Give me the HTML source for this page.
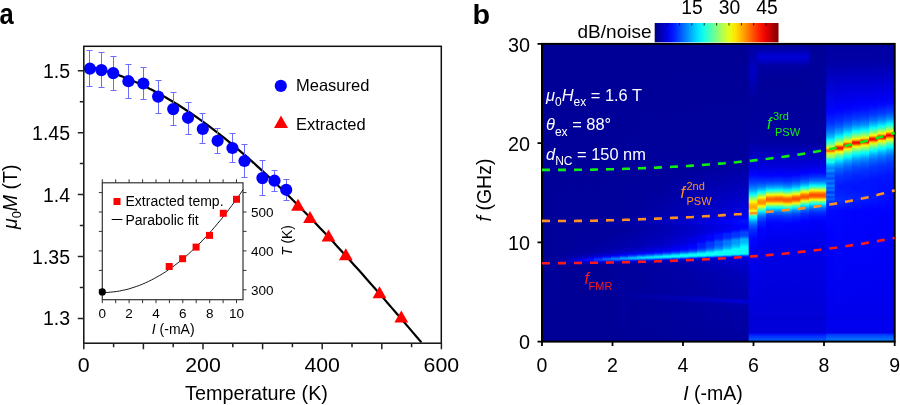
<!DOCTYPE html>
<html><head><meta charset="utf-8"><style>
html,body{margin:0;padding:0;background:#fff;}
svg{display:block;will-change:transform;font-family:"Liberation Sans", sans-serif;}
</style></head><body>
<svg width="900" height="405" viewBox="0 0 900 405">
<text x="-0.5" y="24" font-size="29" font-weight="bold" textLength="14.2" lengthAdjust="spacingAndGlyphs">a</text>
<text x="472.5" y="24" font-size="28.5" font-weight="bold" textLength="17.6" lengthAdjust="spacingAndGlyphs">b</text>
<polyline fill="none" stroke="#000" stroke-width="2.2" points="89.9,67.0 94.1,67.9 98.3,68.9 102.5,70.0 106.7,71.3 110.9,72.6 115.1,74.0 119.3,75.4 123.5,77.0 127.7,78.7 131.9,80.4 136.1,82.2 140.3,84.1 144.5,86.1 148.6,88.2 152.8,90.3 157.0,92.6 161.2,94.9 165.4,97.2 169.6,99.7 173.8,102.2 178.0,104.8 182.2,107.5 186.4,110.2 190.6,113.0 194.8,115.9 199.0,118.9 203.2,121.9 207.4,125.0 211.6,128.1 215.8,131.3 220.0,134.6 224.2,137.9 228.4,141.3 232.6,144.7 236.8,148.3 241.0,151.8 245.2,155.4 249.4,159.1 253.6,162.8 257.7,166.6 261.9,170.4 266.1,174.3 270.3,178.2 274.5,182.2 278.7,186.2 282.9,190.3 287.1,194.4 291.3,198.5 295.5,202.7 299.7,206.9 303.9,211.2 308.1,215.5 312.3,219.9 316.5,224.3 320.7,228.7 324.9,233.1 329.1,237.6 333.3,242.1 337.5,246.7 341.7,251.3 345.9,255.9 350.1,260.5 354.3,265.2 358.5,269.8 362.7,274.5 366.8,279.3 371.0,284.0 375.2,288.8 379.4,293.6 383.6,298.4 387.8,303.3 392.0,308.1 396.2,313.0 400.4,317.8 404.6,322.7 408.8,327.6 413.0,332.6 417.2,337.5 421.4,342.4"/>
<path d="M89.5 50.5V86.5M86.5 50.5h6M86.5 86.5h6" stroke="#6b6bff" stroke-width="1" fill="none"/>
<path d="M101.5 52.5V87.5M98.5 52.5h6M98.5 87.5h6" stroke="#6b6bff" stroke-width="1" fill="none"/>
<path d="M113.5 56.5V90.5M110.5 56.5h6M110.5 90.5h6" stroke="#6b6bff" stroke-width="1" fill="none"/>
<path d="M128.5 64.5V98.5M125.5 64.5h6M125.5 98.5h6" stroke="#6b6bff" stroke-width="1" fill="none"/>
<path d="M143.5 67.5V99.5M140.5 67.5h6M140.5 99.5h6" stroke="#6b6bff" stroke-width="1" fill="none"/>
<path d="M158.5 80.5V113.5M155.5 80.5h6M155.5 113.5h6" stroke="#6b6bff" stroke-width="1" fill="none"/>
<path d="M173.5 92.5V125.5M170.5 92.5h6M170.5 125.5h6" stroke="#6b6bff" stroke-width="1" fill="none"/>
<path d="M188.5 102.5V134.5M185.5 102.5h6M185.5 134.5h6" stroke="#6b6bff" stroke-width="1" fill="none"/>
<path d="M202.5 113.5V143.5M199.5 113.5h6M199.5 143.5h6" stroke="#6b6bff" stroke-width="1" fill="none"/>
<path d="M217.5 128.5V153.5M214.5 128.5h6M214.5 153.5h6" stroke="#6b6bff" stroke-width="1" fill="none"/>
<path d="M232.5 133.5V162.5M229.5 133.5h6M229.5 162.5h6" stroke="#6b6bff" stroke-width="1" fill="none"/>
<path d="M244.5 144.5V177.5M241.5 144.5h6M241.5 177.5h6" stroke="#6b6bff" stroke-width="1" fill="none"/>
<path d="M262.5 160.5V195.5M259.5 160.5h6M259.5 195.5h6" stroke="#6b6bff" stroke-width="1" fill="none"/>
<path d="M274.5 170.5V191.5M271.5 170.5h6M271.5 191.5h6" stroke="#6b6bff" stroke-width="1" fill="none"/>
<path d="M286.5 179.5V200.5M283.5 179.5h6M283.5 200.5h6" stroke="#6b6bff" stroke-width="1" fill="none"/>
<circle cx="89.9" cy="68.7" r="6.1" fill="#0000ff"/>
<circle cx="101.4" cy="70.1" r="6.1" fill="#0000ff"/>
<circle cx="113.2" cy="73.1" r="6.1" fill="#0000ff"/>
<circle cx="128.4" cy="81.2" r="6.1" fill="#0000ff"/>
<circle cx="143.3" cy="83.5" r="6.1" fill="#0000ff"/>
<circle cx="158.1" cy="96.6" r="6.1" fill="#0000ff"/>
<circle cx="173.2" cy="109.1" r="6.1" fill="#0000ff"/>
<circle cx="188.0" cy="117.8" r="6.1" fill="#0000ff"/>
<circle cx="202.8" cy="129.0" r="6.1" fill="#0000ff"/>
<circle cx="217.6" cy="140.8" r="6.1" fill="#0000ff"/>
<circle cx="232.4" cy="148.0" r="6.1" fill="#0000ff"/>
<circle cx="244.5" cy="161.0" r="6.1" fill="#0000ff"/>
<circle cx="262.4" cy="178.1" r="6.1" fill="#0000ff"/>
<circle cx="274.5" cy="180.7" r="6.1" fill="#0000ff"/>
<circle cx="286.2" cy="189.8" r="6.1" fill="#0000ff"/>
<path d="M298.0 198.8L304.9 210.8H291.1Z" fill="#ff0000"/>
<path d="M310.0 211.1L316.9 223.1H303.1Z" fill="#ff0000"/>
<path d="M328.5 229.5L335.4 241.5H321.6Z" fill="#ff0000"/>
<path d="M345.8 248.2L352.7 260.2H338.9Z" fill="#ff0000"/>
<path d="M379.5 286.2L386.4 298.2H372.6Z" fill="#ff0000"/>
<path d="M401.3 310.6L408.2 322.6H394.4Z" fill="#ff0000"/>
<rect x="83.8" y="46.3" width="357.5" height="296.9" fill="none" stroke="#111" stroke-width="1.5"/>
<path d="M77.8 318.4H83.8M79.8 287.5H83.8M77.8 256.5H83.8M79.8 225.6H83.8M77.8 194.6H83.8M79.8 163.6H83.8M77.8 132.7H83.8M79.8 101.7H83.8M77.8 70.8H83.8M83.8 343.2V349.2M113.6 343.2V347.2M143.4 343.2V349.2M173.2 343.2V347.2M203.0 343.2V349.2M232.8 343.2V347.2M262.6 343.2V349.2M292.4 343.2V347.2M322.2 343.2V349.2M352.0 343.2V347.2M381.8 343.2V349.2M411.6 343.2V347.2M441.4 343.2V349.2" stroke="#222" stroke-width="1.5" fill="none"/>
<text x="70.0" y="77.8" font-size="19.5" text-anchor="end" fill="#000" >1.5</text>
<text x="70.0" y="139.7" font-size="19.5" text-anchor="end" fill="#000" >1.45</text>
<text x="70.0" y="201.6" font-size="19.5" text-anchor="end" fill="#000" >1.4</text>
<text x="70.0" y="263.5" font-size="19.5" text-anchor="end" fill="#000" >1.35</text>
<text x="70.0" y="325.4" font-size="19.5" text-anchor="end" fill="#000" >1.3</text>
<text x="83.8" y="372.2" font-size="20.5" text-anchor="middle" fill="#000" textLength="11.9" lengthAdjust="spacingAndGlyphs" >0</text>
<text x="203.0" y="372.2" font-size="20.5" text-anchor="middle" fill="#000" textLength="35.6" lengthAdjust="spacingAndGlyphs" >200</text>
<text x="322.2" y="372.2" font-size="20.5" text-anchor="middle" fill="#000" textLength="35.6" lengthAdjust="spacingAndGlyphs" >400</text>
<text x="441.4" y="372.2" font-size="20.5" text-anchor="middle" fill="#000" textLength="35.6" lengthAdjust="spacingAndGlyphs" >600</text>
<text x="256.5" y="400.0" font-size="19.8" text-anchor="middle" fill="#000" >Temperature (K)</text>
<text transform="translate(17,196.8) rotate(-90)" font-size="19.5" text-anchor="middle"><tspan font-style="italic">μ</tspan><tspan font-size="13" dy="4">0</tspan><tspan font-style="italic" dy="-4">M</tspan> (T)</text>
<circle cx="280.8" cy="85.9" r="6.1" fill="#0000ff"/>
<text x="296.0" y="91.0" font-size="16.5" text-anchor="start" fill="#000" >Measured</text>
<path d="M281 115.4L288 128H274Z" fill="#ff0000"/>
<text x="296.0" y="130.0" font-size="16.5" text-anchor="start" fill="#000" >Extracted</text>
<rect x="102.3" y="182.8" width="140.7" height="116.9" fill="#fff" stroke="#333" stroke-width="1.2"/>
<path d="M102.3 299.7v3.5M102.3 182.8v-3.5M115.7 299.7v3.5M115.7 182.8v-3.5M129.1 299.7v3.5M129.1 182.8v-3.5M142.6 299.7v3.5M142.6 182.8v-3.5M156.0 299.7v3.5M156.0 182.8v-3.5M169.4 299.7v3.5M169.4 182.8v-3.5M182.8 299.7v3.5M182.8 182.8v-3.5M196.2 299.7v3.5M196.2 182.8v-3.5M209.7 299.7v3.5M209.7 182.8v-3.5M223.1 299.7v3.5M223.1 182.8v-3.5M236.5 299.7v3.5M236.5 182.8v-3.5M102.3 289.8h-3.5M243.0 289.8h3.5M102.3 270.4h-3.5M243.0 270.4h3.5M102.3 250.9h-3.5M243.0 250.9h3.5M102.3 231.4h-3.5M243.0 231.4h3.5M102.3 212.0h-3.5M243.0 212.0h3.5M102.3 192.6h-3.5M243.0 192.6h3.5" stroke="#333" stroke-width="1" fill="none"/>
<polyline fill="none" stroke="#000" stroke-width="0.9" points="102.3,292.5 105.2,292.5 108.1,292.4 110.9,292.1 113.8,291.8 116.7,291.5 119.6,291.0 122.4,290.4 125.3,289.8 128.2,289.1 131.1,288.2 133.9,287.3 136.8,286.3 139.7,285.3 142.6,284.1 145.4,282.9 148.3,281.5 151.2,280.1 154.1,278.6 156.9,277.0 159.8,275.4 162.7,273.6 165.6,271.8 168.4,269.8 171.3,267.8 174.2,265.7 177.1,263.5 179.9,261.3 182.8,258.9 185.7,256.5 188.6,253.9 191.4,251.3 194.3,248.6 197.2,245.8 200.1,243.0 202.9,240.0 205.8,237.0 208.7,233.8 211.6,230.6 214.5,227.3 217.3,223.9 220.2,220.5 223.1,216.9 226.0,213.3 228.8,209.5 231.7,205.7 234.6,201.8 237.5,197.8 240.3,193.8 243.2,189.6"/>
<rect x="165.7" y="263.0" width="7" height="7" fill="#ff0000"/>
<rect x="179.1" y="255.2" width="7" height="7" fill="#ff0000"/>
<rect x="192.6" y="243.6" width="7" height="7" fill="#ff0000"/>
<rect x="206.0" y="231.9" width="7" height="7" fill="#ff0000"/>
<rect x="219.8" y="209.8" width="7" height="7" fill="#ff0000"/>
<rect x="233.0" y="195.8" width="7" height="7" fill="#ff0000"/>
<circle cx="102.3" cy="291.9" r="3.6" fill="#000"/>
<rect x="113.5" y="198" width="7" height="7" fill="#ff0000"/>
<text x="125.5" y="206.0" font-size="14" text-anchor="start" fill="#000" >Extracted temp.</text>
<path d="M111.7 219.5H122.4" stroke="#000" stroke-width="1"/>
<text x="125.5" y="224.8" font-size="14" text-anchor="start" fill="#000" >Parabolic fit</text>
<text x="102.3" y="317.5" font-size="13.5" text-anchor="middle" fill="#000" >0</text>
<text x="129.1" y="317.5" font-size="13.5" text-anchor="middle" fill="#000" >2</text>
<text x="156.0" y="317.5" font-size="13.5" text-anchor="middle" fill="#000" >4</text>
<text x="182.8" y="317.5" font-size="13.5" text-anchor="middle" fill="#000" >6</text>
<text x="209.7" y="317.5" font-size="13.5" text-anchor="middle" fill="#000" >8</text>
<text x="236.5" y="317.5" font-size="13.5" text-anchor="middle" fill="#000" >10</text>
<text x="251.0" y="294.6" font-size="13.5" text-anchor="start" fill="#000" >300</text>
<text x="251.0" y="255.7" font-size="13.5" text-anchor="start" fill="#000" >400</text>
<text x="251.0" y="216.8" font-size="13.5" text-anchor="start" fill="#000" >500</text>
<text x="173.2" y="334.3" font-size="14" text-anchor="middle"><tspan font-style="italic">I</tspan> (-mA)</text>
<text transform="translate(292,240.5) rotate(-90)" font-size="13.8" text-anchor="middle"><tspan font-style="italic">T</tspan> (K)</text>
<g id="heat"><defs><linearGradient id="c0" x1="0" x2="0" y1="0" y2="1"><stop offset="0.0000" stop-color="#000096"/><stop offset="0.9976" stop-color="#000096"/></linearGradient><linearGradient id="c1" x1="0" x2="0" y1="0" y2="1"><stop offset="0.0000" stop-color="#000096"/><stop offset="0.7222" stop-color="#00009b"/><stop offset="0.9976" stop-color="#000096"/></linearGradient><linearGradient id="c2" x1="0" x2="0" y1="0" y2="1"><stop offset="0.0000" stop-color="#000096"/><stop offset="0.7121" stop-color="#00009b"/><stop offset="0.7289" stop-color="#0000af"/><stop offset="0.7457" stop-color="#000097"/><stop offset="0.9976" stop-color="#000096"/></linearGradient><linearGradient id="c3" x1="0" x2="0" y1="0" y2="1"><stop offset="0.0000" stop-color="#000096"/><stop offset="0.7020" stop-color="#00009c"/><stop offset="0.7155" stop-color="#0000a9"/><stop offset="0.7256" stop-color="#0000cb"/><stop offset="0.7289" stop-color="#0000ce"/><stop offset="0.7390" stop-color="#0000a1"/><stop offset="0.7524" stop-color="#000096"/><stop offset="0.9976" stop-color="#000096"/></linearGradient><linearGradient id="c4" x1="0" x2="0" y1="0" y2="1"><stop offset="0.0000" stop-color="#000096"/><stop offset="0.5878" stop-color="#00009a"/><stop offset="0.6987" stop-color="#00009f"/><stop offset="0.7121" stop-color="#0000ad"/><stop offset="0.7188" stop-color="#0000c6"/><stop offset="0.7256" stop-color="#0000ee"/><stop offset="0.7289" stop-color="#0000eb"/><stop offset="0.7390" stop-color="#0000a3"/><stop offset="0.7491" stop-color="#000097"/><stop offset="0.9976" stop-color="#000096"/></linearGradient><linearGradient id="c5" x1="0" x2="0" y1="0" y2="1"><stop offset="0.0000" stop-color="#000096"/><stop offset="0.5878" stop-color="#00009b"/><stop offset="0.6920" stop-color="#00009f"/><stop offset="0.7088" stop-color="#0000b0"/><stop offset="0.7155" stop-color="#0000c9"/><stop offset="0.7222" stop-color="#0000fe"/><stop offset="0.7256" stop-color="#0011ff"/><stop offset="0.7289" stop-color="#0002ff"/><stop offset="0.7356" stop-color="#0000b8"/><stop offset="0.7390" stop-color="#0000a2"/><stop offset="0.7491" stop-color="#000097"/><stop offset="0.9976" stop-color="#000097"/></linearGradient><linearGradient id="c6" x1="0" x2="0" y1="0" y2="1"><stop offset="0.0000" stop-color="#000096"/><stop offset="0.5845" stop-color="#00009a"/><stop offset="0.6013" stop-color="#00009d"/><stop offset="0.6785" stop-color="#00009e"/><stop offset="0.7020" stop-color="#0000ae"/><stop offset="0.7121" stop-color="#0000ce"/><stop offset="0.7155" stop-color="#0000e7"/><stop offset="0.7188" stop-color="#000bff"/><stop offset="0.7222" stop-color="#0033ff"/><stop offset="0.7256" stop-color="#003fff"/><stop offset="0.7289" stop-color="#001dff"/><stop offset="0.7323" stop-color="#0000e5"/><stop offset="0.7356" stop-color="#0000b9"/><stop offset="0.7390" stop-color="#0000a2"/><stop offset="0.7491" stop-color="#000097"/><stop offset="0.9976" stop-color="#000097"/></linearGradient><linearGradient id="c7" x1="0" x2="0" y1="0" y2="1"><stop offset="0.0000" stop-color="#000096"/><stop offset="0.5845" stop-color="#00009b"/><stop offset="0.6013" stop-color="#00009f"/><stop offset="0.6584" stop-color="#00009d"/><stop offset="0.6953" stop-color="#0000ad"/><stop offset="0.7054" stop-color="#0000c2"/><stop offset="0.7121" stop-color="#0000e7"/><stop offset="0.7155" stop-color="#000cff"/><stop offset="0.7222" stop-color="#0067ff"/><stop offset="0.7256" stop-color="#0061ff"/><stop offset="0.7289" stop-color="#0028ff"/><stop offset="0.7323" stop-color="#0000e3"/><stop offset="0.7356" stop-color="#0000b5"/><stop offset="0.7390" stop-color="#0000a0"/><stop offset="0.7558" stop-color="#000097"/><stop offset="0.9976" stop-color="#000097"/></linearGradient><linearGradient id="c8" x1="0" x2="0" y1="0" y2="1"><stop offset="0.0000" stop-color="#000096"/><stop offset="0.5845" stop-color="#00009c"/><stop offset="0.5979" stop-color="#0000a4"/><stop offset="0.6281" stop-color="#00009c"/><stop offset="0.6886" stop-color="#0000ab"/><stop offset="0.7020" stop-color="#0000c2"/><stop offset="0.7088" stop-color="#0000e2"/><stop offset="0.7121" stop-color="#0001ff"/><stop offset="0.7155" stop-color="#002fff"/><stop offset="0.7188" stop-color="#0067ff"/><stop offset="0.7222" stop-color="#0086ff"/><stop offset="0.7256" stop-color="#0068ff"/><stop offset="0.7289" stop-color="#001eff"/><stop offset="0.7323" stop-color="#0000d7"/><stop offset="0.7356" stop-color="#0000af"/><stop offset="0.7390" stop-color="#00009f"/><stop offset="0.7995" stop-color="#000098"/><stop offset="0.8498" stop-color="#000099"/><stop offset="0.9976" stop-color="#000097"/></linearGradient><linearGradient id="c9" x1="0" x2="0" y1="0" y2="1"><stop offset="0.0000" stop-color="#000096"/><stop offset="0.5811" stop-color="#00009c"/><stop offset="0.5979" stop-color="#0000a7"/><stop offset="0.6214" stop-color="#00009e"/><stop offset="0.6853" stop-color="#0000ae"/><stop offset="0.6987" stop-color="#0000c3"/><stop offset="0.7054" stop-color="#0000df"/><stop offset="0.7088" stop-color="#0000f8"/><stop offset="0.7121" stop-color="#0021ff"/><stop offset="0.7188" stop-color="#0092ff"/><stop offset="0.7222" stop-color="#009dff"/><stop offset="0.7256" stop-color="#0065ff"/><stop offset="0.7289" stop-color="#000fff"/><stop offset="0.7323" stop-color="#0000cc"/><stop offset="0.7356" stop-color="#0000aa"/><stop offset="0.7424" stop-color="#00009b"/><stop offset="0.8364" stop-color="#00009e"/><stop offset="0.9976" stop-color="#000098"/></linearGradient><linearGradient id="c10" x1="0" x2="0" y1="0" y2="1"><stop offset="0.0000" stop-color="#000096"/><stop offset="0.5778" stop-color="#00009d"/><stop offset="0.5979" stop-color="#0000ab"/><stop offset="0.6214" stop-color="#0000a1"/><stop offset="0.6819" stop-color="#0000b2"/><stop offset="0.6953" stop-color="#0000c4"/><stop offset="0.7020" stop-color="#0000dd"/><stop offset="0.7054" stop-color="#0000f2"/><stop offset="0.7088" stop-color="#0015ff"/><stop offset="0.7121" stop-color="#0046ff"/><stop offset="0.7155" stop-color="#0087ff"/><stop offset="0.7188" stop-color="#00b9ff"/><stop offset="0.7222" stop-color="#00a9ff"/><stop offset="0.7289" stop-color="#0000fd"/><stop offset="0.7323" stop-color="#0000c1"/><stop offset="0.7356" stop-color="#0000a7"/><stop offset="0.7457" stop-color="#00009c"/><stop offset="0.8364" stop-color="#00009e"/><stop offset="0.8465" stop-color="#0000a3"/><stop offset="0.8700" stop-color="#000099"/><stop offset="0.9976" stop-color="#000098"/></linearGradient><linearGradient id="c11" x1="0" x2="0" y1="0" y2="1"><stop offset="0.0000" stop-color="#000096"/><stop offset="0.5643" stop-color="#00009e"/><stop offset="0.5878" stop-color="#0000aa"/><stop offset="0.5979" stop-color="#0000b0"/><stop offset="0.6181" stop-color="#0000a5"/><stop offset="0.6785" stop-color="#0000b5"/><stop offset="0.6953" stop-color="#0000d0"/><stop offset="0.7020" stop-color="#0000ee"/><stop offset="0.7054" stop-color="#000bff"/><stop offset="0.7088" stop-color="#0035ff"/><stop offset="0.7155" stop-color="#00b6ff"/><stop offset="0.7188" stop-color="#00d6ff"/><stop offset="0.7222" stop-color="#00a7ff"/><stop offset="0.7256" stop-color="#0045ff"/><stop offset="0.7289" stop-color="#0000eb"/><stop offset="0.7323" stop-color="#0000b9"/><stop offset="0.7356" stop-color="#0000a5"/><stop offset="0.7659" stop-color="#00009c"/><stop offset="0.8364" stop-color="#00009e"/><stop offset="0.8465" stop-color="#0000a8"/><stop offset="0.8633" stop-color="#00009a"/><stop offset="0.9976" stop-color="#000099"/></linearGradient><linearGradient id="c12" x1="0" x2="0" y1="0" y2="1"><stop offset="0.0000" stop-color="#000096"/><stop offset="0.5139" stop-color="#00009e"/><stop offset="0.5845" stop-color="#0000a9"/><stop offset="0.5979" stop-color="#0000b5"/><stop offset="0.6181" stop-color="#0000a9"/><stop offset="0.6752" stop-color="#0000bb"/><stop offset="0.6953" stop-color="#0000dd"/><stop offset="0.7020" stop-color="#0001ff"/><stop offset="0.7054" stop-color="#0023ff"/><stop offset="0.7088" stop-color="#0055ff"/><stop offset="0.7155" stop-color="#00d8ff"/><stop offset="0.7188" stop-color="#00dcff"/><stop offset="0.7222" stop-color="#0092ff"/><stop offset="0.7256" stop-color="#0029ff"/><stop offset="0.7289" stop-color="#0000d9"/><stop offset="0.7323" stop-color="#0000b2"/><stop offset="0.7390" stop-color="#0000a1"/><stop offset="0.8364" stop-color="#00009e"/><stop offset="0.8465" stop-color="#0000ac"/><stop offset="0.8633" stop-color="#00009b"/><stop offset="0.9976" stop-color="#000099"/></linearGradient><linearGradient id="c13" x1="0" x2="0" y1="0" y2="1"><stop offset="0.0000" stop-color="#000096"/><stop offset="0.4803" stop-color="#00009d"/><stop offset="0.5811" stop-color="#0000aa"/><stop offset="0.5979" stop-color="#0000bb"/><stop offset="0.6147" stop-color="#0000ad"/><stop offset="0.6584" stop-color="#0000b9"/><stop offset="0.6785" stop-color="#0000c6"/><stop offset="0.6953" stop-color="#0000ea"/><stop offset="0.6987" stop-color="#0000fb"/><stop offset="0.7020" stop-color="#0017ff"/><stop offset="0.7054" stop-color="#0040ff"/><stop offset="0.7088" stop-color="#007cff"/><stop offset="0.7121" stop-color="#00c4ff"/><stop offset="0.7155" stop-color="#00f3ff"/><stop offset="0.7188" stop-color="#00d5ff"/><stop offset="0.7256" stop-color="#000cff"/><stop offset="0.7289" stop-color="#0000ca"/><stop offset="0.7323" stop-color="#0000ae"/><stop offset="0.7424" stop-color="#0000a3"/><stop offset="0.8398" stop-color="#0000a2"/><stop offset="0.8498" stop-color="#0000b0"/><stop offset="0.8633" stop-color="#00009c"/><stop offset="0.9976" stop-color="#000099"/></linearGradient><linearGradient id="c14" x1="0" x2="0" y1="0" y2="1"><stop offset="0.0000" stop-color="#000096"/><stop offset="0.4602" stop-color="#00009d"/><stop offset="0.5811" stop-color="#0000af"/><stop offset="0.5946" stop-color="#0000c2"/><stop offset="0.6147" stop-color="#0000b3"/><stop offset="0.6550" stop-color="#0000bf"/><stop offset="0.6651" stop-color="#0000c9"/><stop offset="0.6752" stop-color="#0000cc"/><stop offset="0.6920" stop-color="#0000ec"/><stop offset="0.6953" stop-color="#0000f9"/><stop offset="0.6987" stop-color="#0011ff"/><stop offset="0.7020" stop-color="#0033ff"/><stop offset="0.7054" stop-color="#0065ff"/><stop offset="0.7121" stop-color="#00eeff"/><stop offset="0.7155" stop-color="#00ffff"/><stop offset="0.7188" stop-color="#00bdff"/><stop offset="0.7222" stop-color="#004dff"/><stop offset="0.7256" stop-color="#0000f0"/><stop offset="0.7289" stop-color="#0000bf"/><stop offset="0.7323" stop-color="#0000ad"/><stop offset="0.7759" stop-color="#0000a1"/><stop offset="0.8398" stop-color="#0000a1"/><stop offset="0.8498" stop-color="#0000b4"/><stop offset="0.8666" stop-color="#00009d"/><stop offset="0.9976" stop-color="#00009a"/></linearGradient><linearGradient id="c15" x1="0" x2="0" y1="0" y2="1"><stop offset="0.0000" stop-color="#000096"/><stop offset="0.4468" stop-color="#00009d"/><stop offset="0.5811" stop-color="#0000b5"/><stop offset="0.5946" stop-color="#0000c9"/><stop offset="0.6147" stop-color="#0000b9"/><stop offset="0.6517" stop-color="#0000c6"/><stop offset="0.6617" stop-color="#0000d1"/><stop offset="0.6718" stop-color="#0000d2"/><stop offset="0.6819" stop-color="#0000eb"/><stop offset="0.6886" stop-color="#0000f0"/><stop offset="0.6920" stop-color="#0000fa"/><stop offset="0.6953" stop-color="#000dff"/><stop offset="0.6987" stop-color="#002aff"/><stop offset="0.7020" stop-color="#0054ff"/><stop offset="0.7054" stop-color="#0090ff"/><stop offset="0.7088" stop-color="#00d9ff"/><stop offset="0.7121" stop-color="#0afff5"/><stop offset="0.7155" stop-color="#00fcff"/><stop offset="0.7188" stop-color="#009bff"/><stop offset="0.7222" stop-color="#0029ff"/><stop offset="0.7256" stop-color="#0000dc"/><stop offset="0.7289" stop-color="#0000b9"/><stop offset="0.7356" stop-color="#0000aa"/><stop offset="0.8398" stop-color="#0000a1"/><stop offset="0.8532" stop-color="#0000b8"/><stop offset="0.8666" stop-color="#00009f"/><stop offset="0.9976" stop-color="#00009b"/></linearGradient><linearGradient id="c16" x1="0" x2="0" y1="0" y2="1"><stop offset="0.0000" stop-color="#000096"/><stop offset="0.4367" stop-color="#00009d"/><stop offset="0.5811" stop-color="#0000ba"/><stop offset="0.5946" stop-color="#0000d0"/><stop offset="0.6147" stop-color="#0000bf"/><stop offset="0.6483" stop-color="#0000cd"/><stop offset="0.6584" stop-color="#0000da"/><stop offset="0.6685" stop-color="#0000d8"/><stop offset="0.6785" stop-color="#0000f4"/><stop offset="0.6886" stop-color="#0000fc"/><stop offset="0.6920" stop-color="#000cff"/><stop offset="0.6953" stop-color="#0023ff"/><stop offset="0.6987" stop-color="#0046ff"/><stop offset="0.7020" stop-color="#0079ff"/><stop offset="0.7088" stop-color="#06fff9"/><stop offset="0.7121" stop-color="#0afff5"/><stop offset="0.7155" stop-color="#00e6ff"/><stop offset="0.7188" stop-color="#0072ff"/><stop offset="0.7222" stop-color="#000aff"/><stop offset="0.7256" stop-color="#0000ce"/><stop offset="0.7289" stop-color="#0000b7"/><stop offset="0.7524" stop-color="#0000a8"/><stop offset="0.8431" stop-color="#0000a4"/><stop offset="0.8532" stop-color="#0000bd"/><stop offset="0.8666" stop-color="#0000a1"/><stop offset="0.9976" stop-color="#00009b"/></linearGradient><linearGradient id="c17" x1="0" x2="0" y1="0" y2="1"><stop offset="0.0000" stop-color="#000096"/><stop offset="0.4266" stop-color="#00009d"/><stop offset="0.5811" stop-color="#0000c1"/><stop offset="0.5946" stop-color="#0000d8"/><stop offset="0.6147" stop-color="#0000c6"/><stop offset="0.6416" stop-color="#0000cf"/><stop offset="0.6517" stop-color="#0000e5"/><stop offset="0.6651" stop-color="#0000e1"/><stop offset="0.6752" stop-color="#0002ff"/><stop offset="0.6853" stop-color="#0004ff"/><stop offset="0.6920" stop-color="#0023ff"/><stop offset="0.6953" stop-color="#0040ff"/><stop offset="0.6987" stop-color="#006aff"/><stop offset="0.7020" stop-color="#00a5ff"/><stop offset="0.7054" stop-color="#00edff"/><stop offset="0.7088" stop-color="#0afff5"/><stop offset="0.7121" stop-color="#0afff5"/><stop offset="0.7155" stop-color="#00c1ff"/><stop offset="0.7188" stop-color="#0048ff"/><stop offset="0.7222" stop-color="#0000f0"/><stop offset="0.7256" stop-color="#0000c6"/><stop offset="0.7289" stop-color="#0000b7"/><stop offset="0.7759" stop-color="#0000a8"/><stop offset="0.8431" stop-color="#0000a4"/><stop offset="0.8566" stop-color="#0000c1"/><stop offset="0.8700" stop-color="#0000a1"/><stop offset="0.9976" stop-color="#00009c"/></linearGradient><linearGradient id="c18" x1="0" x2="0" y1="0" y2="1"><stop offset="0.0000" stop-color="#000096"/><stop offset="0.4199" stop-color="#00009d"/><stop offset="0.5778" stop-color="#0000c5"/><stop offset="0.5946" stop-color="#0000e1"/><stop offset="0.6147" stop-color="#0000ce"/><stop offset="0.6382" stop-color="#0000d9"/><stop offset="0.6483" stop-color="#0000f4"/><stop offset="0.6584" stop-color="#0000ee"/><stop offset="0.6651" stop-color="#0000ff"/><stop offset="0.6718" stop-color="#001bff"/><stop offset="0.6819" stop-color="#001aff"/><stop offset="0.6886" stop-color="#0034ff"/><stop offset="0.6920" stop-color="#004cff"/><stop offset="0.6953" stop-color="#006dff"/><stop offset="0.6987" stop-color="#009eff"/><stop offset="0.7020" stop-color="#00dfff"/><stop offset="0.7054" stop-color="#0afff5"/><stop offset="0.7121" stop-color="#0afff5"/><stop offset="0.7155" stop-color="#0096ff"/><stop offset="0.7188" stop-color="#0024ff"/><stop offset="0.7222" stop-color="#0000df"/><stop offset="0.7256" stop-color="#0000c3"/><stop offset="0.7356" stop-color="#0000b5"/><stop offset="0.8398" stop-color="#0000a4"/><stop offset="0.8498" stop-color="#0000b0"/><stop offset="0.8566" stop-color="#0000c5"/><stop offset="0.8633" stop-color="#0000b5"/><stop offset="0.8734" stop-color="#0000a2"/><stop offset="0.9976" stop-color="#00009d"/></linearGradient><linearGradient id="c19" x1="0" x2="0" y1="0" y2="1"><stop offset="0.0000" stop-color="#000096"/><stop offset="0.4132" stop-color="#00009d"/><stop offset="0.5778" stop-color="#0000cc"/><stop offset="0.5946" stop-color="#0000ea"/><stop offset="0.6147" stop-color="#0000d7"/><stop offset="0.6349" stop-color="#0000e2"/><stop offset="0.6449" stop-color="#0005ff"/><stop offset="0.6550" stop-color="#0001ff"/><stop offset="0.6617" stop-color="#0015ff"/><stop offset="0.6685" stop-color="#0037ff"/><stop offset="0.6785" stop-color="#0036ff"/><stop offset="0.6853" stop-color="#004dff"/><stop offset="0.6920" stop-color="#007cff"/><stop offset="0.6953" stop-color="#00a3ff"/><stop offset="0.6987" stop-color="#00daff"/><stop offset="0.7020" stop-color="#0afff5"/><stop offset="0.7088" stop-color="#0afff5"/><stop offset="0.7121" stop-color="#00e8ff"/><stop offset="0.7155" stop-color="#006aff"/><stop offset="0.7188" stop-color="#0008ff"/><stop offset="0.7222" stop-color="#0000d5"/><stop offset="0.7256" stop-color="#0000c3"/><stop offset="0.7692" stop-color="#0000af"/><stop offset="0.8465" stop-color="#0000a8"/><stop offset="0.8599" stop-color="#0000c9"/><stop offset="0.8700" stop-color="#0000a8"/><stop offset="0.9809" stop-color="#00009e"/><stop offset="0.9976" stop-color="#00009d"/></linearGradient><linearGradient id="c20" x1="0" x2="0" y1="0" y2="1"><stop offset="0.0000" stop-color="#000096"/><stop offset="0.4098" stop-color="#00009d"/><stop offset="0.5710" stop-color="#0000cf"/><stop offset="0.5845" stop-color="#0000dd"/><stop offset="0.5946" stop-color="#0000f3"/><stop offset="0.6114" stop-color="#0000e0"/><stop offset="0.6315" stop-color="#0000ec"/><stop offset="0.6382" stop-color="#0006ff"/><stop offset="0.6416" stop-color="#0014ff"/><stop offset="0.6517" stop-color="#0012ff"/><stop offset="0.6550" stop-color="#0019ff"/><stop offset="0.6651" stop-color="#0054ff"/><stop offset="0.6752" stop-color="#0055ff"/><stop offset="0.6853" stop-color="#007aff"/><stop offset="0.6920" stop-color="#00b0ff"/><stop offset="0.6953" stop-color="#00dcff"/><stop offset="0.6987" stop-color="#0afff5"/><stop offset="0.7088" stop-color="#0afff5"/><stop offset="0.7121" stop-color="#00b9ff"/><stop offset="0.7155" stop-color="#0041ff"/><stop offset="0.7188" stop-color="#0000f3"/><stop offset="0.7222" stop-color="#0000d1"/><stop offset="0.7289" stop-color="#0000c2"/><stop offset="0.7793" stop-color="#0000b1"/><stop offset="0.8498" stop-color="#0000ab"/><stop offset="0.8599" stop-color="#0000ce"/><stop offset="0.8633" stop-color="#0000ca"/><stop offset="0.8734" stop-color="#0000a7"/><stop offset="0.9976" stop-color="#00009e"/></linearGradient><linearGradient id="c21" x1="0" x2="0" y1="0" y2="1"><stop offset="0.0000" stop-color="#000096"/><stop offset="0.4031" stop-color="#00009d"/><stop offset="0.5442" stop-color="#0000cb"/><stop offset="0.5811" stop-color="#0000e0"/><stop offset="0.5946" stop-color="#0000fd"/><stop offset="0.6114" stop-color="#0000e9"/><stop offset="0.6281" stop-color="#0000f6"/><stop offset="0.6315" stop-color="#0002ff"/><stop offset="0.6382" stop-color="#0023ff"/><stop offset="0.6449" stop-color="#0025ff"/><stop offset="0.6517" stop-color="#002bff"/><stop offset="0.6617" stop-color="#0070ff"/><stop offset="0.6651" stop-color="#0078ff"/><stop offset="0.6718" stop-color="#0075ff"/><stop offset="0.6819" stop-color="#0099ff"/><stop offset="0.6886" stop-color="#00c5ff"/><stop offset="0.6920" stop-color="#00e9ff"/><stop offset="0.6953" stop-color="#0afff5"/><stop offset="0.7088" stop-color="#08fff7"/><stop offset="0.7121" stop-color="#008aff"/><stop offset="0.7155" stop-color="#0020ff"/><stop offset="0.7188" stop-color="#0000e6"/><stop offset="0.7222" stop-color="#0000d1"/><stop offset="0.7558" stop-color="#0000b8"/><stop offset="0.8498" stop-color="#0000ab"/><stop offset="0.8566" stop-color="#0000be"/><stop offset="0.8599" stop-color="#0000cd"/><stop offset="0.8633" stop-color="#0000d2"/><stop offset="0.8734" stop-color="#0000ac"/><stop offset="0.9103" stop-color="#0000a2"/><stop offset="0.9976" stop-color="#00009f"/></linearGradient><linearGradient id="c22" x1="0" x2="0" y1="0" y2="1"><stop offset="0.0000" stop-color="#000096"/><stop offset="0.3997" stop-color="#00009d"/><stop offset="0.5274" stop-color="#0000c9"/><stop offset="0.5811" stop-color="#0000e9"/><stop offset="0.5912" stop-color="#0004ff"/><stop offset="0.5979" stop-color="#0008ff"/><stop offset="0.6147" stop-color="#0000f5"/><stop offset="0.6248" stop-color="#0001ff"/><stop offset="0.6349" stop-color="#0031ff"/><stop offset="0.6382" stop-color="#0038ff"/><stop offset="0.6449" stop-color="#0033ff"/><stop offset="0.6483" stop-color="#003cff"/><stop offset="0.6550" stop-color="#006fff"/><stop offset="0.6584" stop-color="#008cff"/><stop offset="0.6617" stop-color="#0098ff"/><stop offset="0.6685" stop-color="#0096ff"/><stop offset="0.6785" stop-color="#00baff"/><stop offset="0.6853" stop-color="#00e2ff"/><stop offset="0.6886" stop-color="#00feff"/><stop offset="0.6920" stop-color="#0afff5"/><stop offset="0.7054" stop-color="#0afff5"/><stop offset="0.7088" stop-color="#00dbff"/><stop offset="0.7121" stop-color="#005eff"/><stop offset="0.7155" stop-color="#0009ff"/><stop offset="0.7188" stop-color="#0000e1"/><stop offset="0.7256" stop-color="#0000cf"/><stop offset="0.7726" stop-color="#0000b8"/><stop offset="0.8532" stop-color="#0000af"/><stop offset="0.8633" stop-color="#0000d6"/><stop offset="0.8666" stop-color="#0000d3"/><stop offset="0.8767" stop-color="#0000aa"/><stop offset="0.9976" stop-color="#0000a0"/></linearGradient><linearGradient id="c23" x1="0" x2="0" y1="0" y2="1"><stop offset="0.0000" stop-color="#000096"/><stop offset="0.3964" stop-color="#00009d"/><stop offset="0.5139" stop-color="#0000c8"/><stop offset="0.5811" stop-color="#0000f2"/><stop offset="0.5878" stop-color="#0004ff"/><stop offset="0.5946" stop-color="#0014ff"/><stop offset="0.6114" stop-color="#0000ff"/><stop offset="0.6214" stop-color="#000aff"/><stop offset="0.6281" stop-color="#002aff"/><stop offset="0.6315" stop-color="#003fff"/><stop offset="0.6349" stop-color="#0047ff"/><stop offset="0.6416" stop-color="#0042ff"/><stop offset="0.6449" stop-color="#004bff"/><stop offset="0.6483" stop-color="#0062ff"/><stop offset="0.6550" stop-color="#00a5ff"/><stop offset="0.6584" stop-color="#00b6ff"/><stop offset="0.6651" stop-color="#00b7ff"/><stop offset="0.6752" stop-color="#00deff"/><stop offset="0.6819" stop-color="#04fffb"/><stop offset="0.7020" stop-color="#0afff5"/><stop offset="0.7054" stop-color="#0afff5"/><stop offset="0.7088" stop-color="#00abff"/><stop offset="0.7121" stop-color="#003bff"/><stop offset="0.7155" stop-color="#0000fa"/><stop offset="0.7188" stop-color="#0000e0"/><stop offset="0.7356" stop-color="#0000cd"/><stop offset="0.7759" stop-color="#0000bb"/><stop offset="0.8532" stop-color="#0000ae"/><stop offset="0.8599" stop-color="#0000c3"/><stop offset="0.8633" stop-color="#0000d5"/><stop offset="0.8666" stop-color="#0000db"/><stop offset="0.8767" stop-color="#0000b0"/><stop offset="0.8969" stop-color="#0000a6"/><stop offset="0.9976" stop-color="#0000a1"/></linearGradient><linearGradient id="c24" x1="0" x2="0" y1="0" y2="1"><stop offset="0.0000" stop-color="#00009d"/><stop offset="0.0907" stop-color="#0000c3"/><stop offset="0.1847" stop-color="#00009d"/><stop offset="0.3292" stop-color="#0000a3"/><stop offset="0.4165" stop-color="#0000e5"/><stop offset="0.4400" stop-color="#0005ff"/><stop offset="0.4669" stop-color="#0040ff"/><stop offset="0.4871" stop-color="#008bff"/><stop offset="0.5005" stop-color="#00dcff"/><stop offset="0.5039" stop-color="#00f6ff"/><stop offset="0.5072" stop-color="#13ffec"/><stop offset="0.5307" stop-color="#feff01"/><stop offset="0.5375" stop-color="#ffca00"/><stop offset="0.5442" stop-color="#ffac00"/><stop offset="0.5509" stop-color="#ffaf00"/><stop offset="0.5576" stop-color="#ffd700"/><stop offset="0.5610" stop-color="#fff700"/><stop offset="0.5643" stop-color="#e2ff1d"/><stop offset="0.5811" stop-color="#1fffe0"/><stop offset="0.5845" stop-color="#00fcff"/><stop offset="0.5946" stop-color="#00a9ff"/><stop offset="0.6080" stop-color="#0060ff"/><stop offset="0.6248" stop-color="#002cff"/><stop offset="0.6517" stop-color="#0006ff"/><stop offset="0.7020" stop-color="#0000ef"/><stop offset="0.9170" stop-color="#0000d8"/><stop offset="0.9204" stop-color="#0000d0"/><stop offset="0.9305" stop-color="#0000dc"/><stop offset="0.9674" stop-color="#0000db"/><stop offset="0.9708" stop-color="#0000d1"/><stop offset="0.9741" stop-color="#000dff"/><stop offset="0.9809" stop-color="#002dff"/><stop offset="0.9976" stop-color="#0060ff"/></linearGradient><linearGradient id="c25" x1="0" x2="0" y1="0" y2="1"><stop offset="0.0000" stop-color="#00009a"/><stop offset="0.0202" stop-color="#0000ab"/><stop offset="0.0403" stop-color="#0000d5"/><stop offset="0.0504" stop-color="#0000d1"/><stop offset="0.0739" stop-color="#0000a2"/><stop offset="0.1176" stop-color="#00009a"/><stop offset="0.3292" stop-color="#0000a1"/><stop offset="0.4165" stop-color="#0000e0"/><stop offset="0.4400" stop-color="#0000ff"/><stop offset="0.4636" stop-color="#0037ff"/><stop offset="0.4803" stop-color="#0080ff"/><stop offset="0.4904" stop-color="#00c5ff"/><stop offset="0.4971" stop-color="#05fffa"/><stop offset="0.5072" stop-color="#7fff80"/><stop offset="0.5139" stop-color="#dbff24"/><stop offset="0.5173" stop-color="#fff600"/><stop offset="0.5240" stop-color="#ffac00"/><stop offset="0.5274" stop-color="#ff9500"/><stop offset="0.5307" stop-color="#ff8a00"/><stop offset="0.5341" stop-color="#ff8e00"/><stop offset="0.5375" stop-color="#ffa200"/><stop offset="0.5408" stop-color="#ffc400"/><stop offset="0.5442" stop-color="#fff000"/><stop offset="0.5475" stop-color="#dbff24"/><stop offset="0.5576" stop-color="#40ffbf"/><stop offset="0.5610" stop-color="#13ffec"/><stop offset="0.5643" stop-color="#00e9ff"/><stop offset="0.5744" stop-color="#008cff"/><stop offset="0.5845" stop-color="#0052ff"/><stop offset="0.5979" stop-color="#0025ff"/><stop offset="0.6214" stop-color="#0002ff"/><stop offset="0.6886" stop-color="#0000ea"/><stop offset="0.9170" stop-color="#0000d7"/><stop offset="0.9204" stop-color="#0000d0"/><stop offset="0.9305" stop-color="#0000dc"/><stop offset="0.9674" stop-color="#0000da"/><stop offset="0.9708" stop-color="#0000d1"/><stop offset="0.9741" stop-color="#000dff"/><stop offset="0.9809" stop-color="#002dff"/><stop offset="0.9976" stop-color="#0060ff"/></linearGradient><linearGradient id="c26" x1="0" x2="0" y1="0" y2="1"><stop offset="0.0000" stop-color="#00009a"/><stop offset="0.0202" stop-color="#0000ab"/><stop offset="0.0403" stop-color="#0000d5"/><stop offset="0.0504" stop-color="#0000d1"/><stop offset="0.0739" stop-color="#0000a2"/><stop offset="0.1176" stop-color="#000099"/><stop offset="0.3292" stop-color="#0000a0"/><stop offset="0.4165" stop-color="#0000de"/><stop offset="0.4434" stop-color="#0005ff"/><stop offset="0.4636" stop-color="#003dff"/><stop offset="0.4770" stop-color="#0083ff"/><stop offset="0.4871" stop-color="#00d5ff"/><stop offset="0.4904" stop-color="#00f9ff"/><stop offset="0.4938" stop-color="#24ffdb"/><stop offset="0.5039" stop-color="#beff41"/><stop offset="0.5072" stop-color="#f7ff08"/><stop offset="0.5139" stop-color="#ffa000"/><stop offset="0.5173" stop-color="#ff7b00"/><stop offset="0.5207" stop-color="#ff6500"/><stop offset="0.5240" stop-color="#ff6200"/><stop offset="0.5274" stop-color="#ff7400"/><stop offset="0.5307" stop-color="#ff9b00"/><stop offset="0.5341" stop-color="#ffd100"/><stop offset="0.5375" stop-color="#efff10"/><stop offset="0.5475" stop-color="#36ffc9"/><stop offset="0.5509" stop-color="#03fffc"/><stop offset="0.5576" stop-color="#00b0ff"/><stop offset="0.5677" stop-color="#0061ff"/><stop offset="0.5778" stop-color="#0033ff"/><stop offset="0.5946" stop-color="#000cff"/><stop offset="0.6114" stop-color="#0000fa"/><stop offset="0.6819" stop-color="#0000e9"/><stop offset="0.9170" stop-color="#0000d7"/><stop offset="0.9204" stop-color="#0000d0"/><stop offset="0.9305" stop-color="#0000db"/><stop offset="0.9674" stop-color="#0000da"/><stop offset="0.9708" stop-color="#0000d1"/><stop offset="0.9741" stop-color="#000dff"/><stop offset="0.9809" stop-color="#002dff"/><stop offset="0.9976" stop-color="#0060ff"/></linearGradient><linearGradient id="c27" x1="0" x2="0" y1="0" y2="1"><stop offset="0.0000" stop-color="#00009a"/><stop offset="0.0202" stop-color="#0000ab"/><stop offset="0.0403" stop-color="#0000d5"/><stop offset="0.0504" stop-color="#0000d1"/><stop offset="0.0739" stop-color="#0000a2"/><stop offset="0.1176" stop-color="#000099"/><stop offset="0.3292" stop-color="#0000a0"/><stop offset="0.4165" stop-color="#0000df"/><stop offset="0.4400" stop-color="#0000ff"/><stop offset="0.4602" stop-color="#0034ff"/><stop offset="0.4736" stop-color="#0074ff"/><stop offset="0.4837" stop-color="#00beff"/><stop offset="0.4904" stop-color="#06fff9"/><stop offset="0.4971" stop-color="#63ff9c"/><stop offset="0.5039" stop-color="#d1ff2e"/><stop offset="0.5072" stop-color="#fff400"/><stop offset="0.5139" stop-color="#ff8f00"/><stop offset="0.5173" stop-color="#ff6c00"/><stop offset="0.5207" stop-color="#ff5900"/><stop offset="0.5240" stop-color="#ff5a00"/><stop offset="0.5274" stop-color="#ff7100"/><stop offset="0.5307" stop-color="#ff9c00"/><stop offset="0.5341" stop-color="#ffd500"/><stop offset="0.5375" stop-color="#e9ff16"/><stop offset="0.5475" stop-color="#30ffcf"/><stop offset="0.5509" stop-color="#00fdff"/><stop offset="0.5576" stop-color="#00adff"/><stop offset="0.5677" stop-color="#005eff"/><stop offset="0.5811" stop-color="#0027ff"/><stop offset="0.6013" stop-color="#0003ff"/><stop offset="0.6651" stop-color="#0000ea"/><stop offset="0.9170" stop-color="#0000d7"/><stop offset="0.9204" stop-color="#0000d0"/><stop offset="0.9305" stop-color="#0000db"/><stop offset="0.9674" stop-color="#0000da"/><stop offset="0.9708" stop-color="#0000d1"/><stop offset="0.9741" stop-color="#000dff"/><stop offset="0.9809" stop-color="#002dff"/><stop offset="0.9976" stop-color="#0060ff"/></linearGradient><linearGradient id="c28" x1="0" x2="0" y1="0" y2="1"><stop offset="0.0000" stop-color="#00009a"/><stop offset="0.0202" stop-color="#0000ab"/><stop offset="0.0403" stop-color="#0000d5"/><stop offset="0.0504" stop-color="#0000d1"/><stop offset="0.0739" stop-color="#0000a2"/><stop offset="0.1176" stop-color="#000099"/><stop offset="0.3292" stop-color="#0000a0"/><stop offset="0.4165" stop-color="#0000de"/><stop offset="0.4434" stop-color="#0004ff"/><stop offset="0.4636" stop-color="#003aff"/><stop offset="0.4770" stop-color="#007cff"/><stop offset="0.4871" stop-color="#00cbff"/><stop offset="0.4904" stop-color="#00eeff"/><stop offset="0.4938" stop-color="#17ffe8"/><stop offset="0.5039" stop-color="#aeff51"/><stop offset="0.5072" stop-color="#e8ff17"/><stop offset="0.5106" stop-color="#ffde00"/><stop offset="0.5173" stop-color="#ff7f00"/><stop offset="0.5207" stop-color="#ff6200"/><stop offset="0.5240" stop-color="#ff5700"/><stop offset="0.5274" stop-color="#ff6000"/><stop offset="0.5307" stop-color="#ff8000"/><stop offset="0.5341" stop-color="#ffb100"/><stop offset="0.5375" stop-color="#ffee00"/><stop offset="0.5408" stop-color="#cfff30"/><stop offset="0.5475" stop-color="#52ffad"/><stop offset="0.5509" stop-color="#1bffe4"/><stop offset="0.5542" stop-color="#00ebff"/><stop offset="0.5610" stop-color="#00a0ff"/><stop offset="0.5710" stop-color="#0057ff"/><stop offset="0.5845" stop-color="#0023ff"/><stop offset="0.6046" stop-color="#0002ff"/><stop offset="0.6651" stop-color="#0000ea"/><stop offset="0.9170" stop-color="#0000d7"/><stop offset="0.9204" stop-color="#0000d0"/><stop offset="0.9305" stop-color="#0000db"/><stop offset="0.9674" stop-color="#0000da"/><stop offset="0.9708" stop-color="#0000d1"/><stop offset="0.9741" stop-color="#000dff"/><stop offset="0.9809" stop-color="#002dff"/><stop offset="0.9976" stop-color="#0060ff"/></linearGradient><linearGradient id="c29" x1="0" x2="0" y1="0" y2="1"><stop offset="0.0000" stop-color="#00009a"/><stop offset="0.0202" stop-color="#0000ab"/><stop offset="0.0403" stop-color="#0000d5"/><stop offset="0.0504" stop-color="#0000d1"/><stop offset="0.0739" stop-color="#0000a2"/><stop offset="0.1176" stop-color="#000099"/><stop offset="0.3292" stop-color="#0000a0"/><stop offset="0.4132" stop-color="#0000dc"/><stop offset="0.4400" stop-color="#0003ff"/><stop offset="0.4602" stop-color="#003bff"/><stop offset="0.4736" stop-color="#0081ff"/><stop offset="0.4837" stop-color="#00d2ff"/><stop offset="0.4871" stop-color="#00f6ff"/><stop offset="0.4904" stop-color="#20ffdf"/><stop offset="0.5005" stop-color="#bbff44"/><stop offset="0.5039" stop-color="#f5ff0a"/><stop offset="0.5072" stop-color="#ffd000"/><stop offset="0.5139" stop-color="#ff7200"/><stop offset="0.5173" stop-color="#ff5600"/><stop offset="0.5207" stop-color="#ff4c00"/><stop offset="0.5240" stop-color="#ff5900"/><stop offset="0.5274" stop-color="#ff7b00"/><stop offset="0.5307" stop-color="#ffae00"/><stop offset="0.5341" stop-color="#ffec00"/><stop offset="0.5375" stop-color="#cfff30"/><stop offset="0.5442" stop-color="#51ffae"/><stop offset="0.5475" stop-color="#1affe5"/><stop offset="0.5509" stop-color="#00eaff"/><stop offset="0.5576" stop-color="#009fff"/><stop offset="0.5677" stop-color="#0057ff"/><stop offset="0.5811" stop-color="#0023ff"/><stop offset="0.6013" stop-color="#0002ff"/><stop offset="0.6617" stop-color="#0000ea"/><stop offset="0.9170" stop-color="#0000d7"/><stop offset="0.9204" stop-color="#0000d0"/><stop offset="0.9305" stop-color="#0000db"/><stop offset="0.9674" stop-color="#0000da"/><stop offset="0.9708" stop-color="#0000d1"/><stop offset="0.9741" stop-color="#000dff"/><stop offset="0.9809" stop-color="#002dff"/><stop offset="0.9976" stop-color="#0060ff"/></linearGradient><linearGradient id="c30" x1="0" x2="0" y1="0" y2="1"><stop offset="0.0000" stop-color="#00009a"/><stop offset="0.0202" stop-color="#0000ab"/><stop offset="0.0403" stop-color="#0000d5"/><stop offset="0.0504" stop-color="#0000d1"/><stop offset="0.0739" stop-color="#0000a2"/><stop offset="0.1176" stop-color="#000099"/><stop offset="0.3292" stop-color="#0000a1"/><stop offset="0.4098" stop-color="#0000dc"/><stop offset="0.4333" stop-color="#0000ff"/><stop offset="0.4535" stop-color="#0037ff"/><stop offset="0.4669" stop-color="#007dff"/><stop offset="0.4770" stop-color="#00d2ff"/><stop offset="0.4803" stop-color="#00f6ff"/><stop offset="0.4837" stop-color="#20ffdf"/><stop offset="0.4938" stop-color="#baff45"/><stop offset="0.4971" stop-color="#f3ff0c"/><stop offset="0.5005" stop-color="#ffd300"/><stop offset="0.5039" stop-color="#ffa000"/><stop offset="0.5072" stop-color="#ff7800"/><stop offset="0.5106" stop-color="#ff5e00"/><stop offset="0.5139" stop-color="#ff5700"/><stop offset="0.5173" stop-color="#ff6500"/><stop offset="0.5207" stop-color="#ff8900"/><stop offset="0.5274" stop-color="#fffb00"/><stop offset="0.5375" stop-color="#46ffb9"/><stop offset="0.5408" stop-color="#11ffee"/><stop offset="0.5442" stop-color="#00e2ff"/><stop offset="0.5509" stop-color="#0099ff"/><stop offset="0.5610" stop-color="#0053ff"/><stop offset="0.5744" stop-color="#0022ff"/><stop offset="0.5946" stop-color="#0001ff"/><stop offset="0.6550" stop-color="#0000ea"/><stop offset="0.9170" stop-color="#0000d7"/><stop offset="0.9204" stop-color="#0000d0"/><stop offset="0.9305" stop-color="#0000db"/><stop offset="0.9674" stop-color="#0000da"/><stop offset="0.9708" stop-color="#0000d1"/><stop offset="0.9741" stop-color="#000dff"/><stop offset="0.9809" stop-color="#002dff"/><stop offset="0.9976" stop-color="#0060ff"/></linearGradient><linearGradient id="c31" x1="0" x2="0" y1="0" y2="1"><stop offset="0.0000" stop-color="#000099"/><stop offset="0.3292" stop-color="#0000a1"/><stop offset="0.4064" stop-color="#0000dc"/><stop offset="0.4300" stop-color="#0001ff"/><stop offset="0.4468" stop-color="#002fff"/><stop offset="0.4602" stop-color="#0070ff"/><stop offset="0.4703" stop-color="#00c0ff"/><stop offset="0.4736" stop-color="#00e3ff"/><stop offset="0.4770" stop-color="#0bfff4"/><stop offset="0.4837" stop-color="#68ff97"/><stop offset="0.4904" stop-color="#d8ff27"/><stop offset="0.4938" stop-color="#ffec00"/><stop offset="0.5005" stop-color="#ff8500"/><stop offset="0.5039" stop-color="#ff6200"/><stop offset="0.5072" stop-color="#ff4f00"/><stop offset="0.5106" stop-color="#ff5000"/><stop offset="0.5139" stop-color="#ff6700"/><stop offset="0.5173" stop-color="#ff9300"/><stop offset="0.5207" stop-color="#ffcc00"/><stop offset="0.5240" stop-color="#f1ff0e"/><stop offset="0.5341" stop-color="#35ffca"/><stop offset="0.5375" stop-color="#02fffd"/><stop offset="0.5442" stop-color="#00afff"/><stop offset="0.5542" stop-color="#0060ff"/><stop offset="0.5643" stop-color="#0032ff"/><stop offset="0.5811" stop-color="#000cff"/><stop offset="0.5979" stop-color="#0000fa"/><stop offset="0.6685" stop-color="#0000e9"/><stop offset="0.9170" stop-color="#0000d7"/><stop offset="0.9204" stop-color="#0000d0"/><stop offset="0.9305" stop-color="#0000db"/><stop offset="0.9674" stop-color="#0000da"/><stop offset="0.9708" stop-color="#0000d1"/><stop offset="0.9741" stop-color="#000dff"/><stop offset="0.9809" stop-color="#002dff"/><stop offset="0.9976" stop-color="#0060ff"/></linearGradient><linearGradient id="c32" x1="0" x2="0" y1="0" y2="1"><stop offset="0.0000" stop-color="#000099"/><stop offset="0.3292" stop-color="#0000a1"/><stop offset="0.4064" stop-color="#0000dc"/><stop offset="0.4300" stop-color="#0001ff"/><stop offset="0.4468" stop-color="#002fff"/><stop offset="0.4602" stop-color="#0070ff"/><stop offset="0.4703" stop-color="#00c0ff"/><stop offset="0.4736" stop-color="#00e3ff"/><stop offset="0.4770" stop-color="#0bfff4"/><stop offset="0.4837" stop-color="#68ff97"/><stop offset="0.4904" stop-color="#d8ff27"/><stop offset="0.4938" stop-color="#ffec00"/><stop offset="0.5005" stop-color="#ff8500"/><stop offset="0.5039" stop-color="#ff6200"/><stop offset="0.5072" stop-color="#ff4f00"/><stop offset="0.5106" stop-color="#ff5000"/><stop offset="0.5139" stop-color="#ff6700"/><stop offset="0.5173" stop-color="#ff9300"/><stop offset="0.5207" stop-color="#ffcc00"/><stop offset="0.5240" stop-color="#f1ff0e"/><stop offset="0.5341" stop-color="#35ffca"/><stop offset="0.5375" stop-color="#02fffd"/><stop offset="0.5442" stop-color="#00afff"/><stop offset="0.5542" stop-color="#0060ff"/><stop offset="0.5643" stop-color="#0032ff"/><stop offset="0.5811" stop-color="#000cff"/><stop offset="0.5979" stop-color="#0000fa"/><stop offset="0.6685" stop-color="#0000e9"/><stop offset="0.9170" stop-color="#0000d7"/><stop offset="0.9204" stop-color="#0000d0"/><stop offset="0.9305" stop-color="#0000db"/><stop offset="0.9674" stop-color="#0000da"/><stop offset="0.9708" stop-color="#0000d1"/><stop offset="0.9741" stop-color="#000dff"/><stop offset="0.9809" stop-color="#002dff"/><stop offset="0.9976" stop-color="#0060ff"/></linearGradient><linearGradient id="c33" x1="0" x2="0" y1="0" y2="1"><stop offset="0.0000" stop-color="#0000a0"/><stop offset="0.0605" stop-color="#0000a6"/><stop offset="0.2318" stop-color="#0005ff"/><stop offset="0.2687" stop-color="#0033ff"/><stop offset="0.2956" stop-color="#0076ff"/><stop offset="0.3124" stop-color="#00bbff"/><stop offset="0.3225" stop-color="#00f4ff"/><stop offset="0.3258" stop-color="#0bfff4"/><stop offset="0.3393" stop-color="#73ff8c"/><stop offset="0.3460" stop-color="#bcff43"/><stop offset="0.3493" stop-color="#f0ff0f"/><stop offset="0.3527" stop-color="#ffc800"/><stop offset="0.3561" stop-color="#ff7c00"/><stop offset="0.3594" stop-color="#ff6300"/><stop offset="0.3628" stop-color="#ff9900"/><stop offset="0.3661" stop-color="#ffe600"/><stop offset="0.3695" stop-color="#daff25"/><stop offset="0.3729" stop-color="#afff50"/><stop offset="0.3762" stop-color="#a3ff5c"/><stop offset="0.3796" stop-color="#a4ff5b"/><stop offset="0.3863" stop-color="#38ffc7"/><stop offset="0.3897" stop-color="#1dffe2"/><stop offset="0.3964" stop-color="#1fffe0"/><stop offset="0.3997" stop-color="#00f7ff"/><stop offset="0.4031" stop-color="#00cbff"/><stop offset="0.4132" stop-color="#0096ff"/><stop offset="0.4199" stop-color="#0080ff"/><stop offset="0.4266" stop-color="#009bff"/><stop offset="0.4333" stop-color="#005dff"/><stop offset="0.4367" stop-color="#0054ff"/><stop offset="0.4434" stop-color="#0071ff"/><stop offset="0.4501" stop-color="#004aff"/><stop offset="0.4535" stop-color="#0049ff"/><stop offset="0.4602" stop-color="#007cff"/><stop offset="0.4669" stop-color="#0054ff"/><stop offset="0.4703" stop-color="#0055ff"/><stop offset="0.4770" stop-color="#008dff"/><stop offset="0.4837" stop-color="#0054ff"/><stop offset="0.4871" stop-color="#0062ff"/><stop offset="0.4904" stop-color="#007cff"/><stop offset="0.4971" stop-color="#003dff"/><stop offset="0.5005" stop-color="#0038ff"/><stop offset="0.5072" stop-color="#0078ff"/><stop offset="0.5139" stop-color="#003dff"/><stop offset="0.5173" stop-color="#004cff"/><stop offset="0.5207" stop-color="#0066ff"/><stop offset="0.5274" stop-color="#0037ff"/><stop offset="0.5576" stop-color="#0009ff"/><stop offset="0.6315" stop-color="#0000fe"/><stop offset="0.9170" stop-color="#0000eb"/><stop offset="0.9204" stop-color="#0000e4"/><stop offset="0.9305" stop-color="#0000f0"/><stop offset="0.9674" stop-color="#0000ef"/><stop offset="0.9708" stop-color="#0000e5"/><stop offset="0.9741" stop-color="#002bff"/><stop offset="0.9809" stop-color="#004cff"/><stop offset="0.9976" stop-color="#007fff"/></linearGradient><linearGradient id="c34" x1="0" x2="0" y1="0" y2="1"><stop offset="0.0000" stop-color="#0000a0"/><stop offset="0.0605" stop-color="#0000a6"/><stop offset="0.2183" stop-color="#0000fd"/><stop offset="0.2553" stop-color="#0029ff"/><stop offset="0.2788" stop-color="#005eff"/><stop offset="0.2990" stop-color="#00afff"/><stop offset="0.3124" stop-color="#03fffc"/><stop offset="0.3258" stop-color="#74ff8b"/><stop offset="0.3325" stop-color="#bcff43"/><stop offset="0.3359" stop-color="#e8ff17"/><stop offset="0.3393" stop-color="#ffdf00"/><stop offset="0.3426" stop-color="#ff9500"/><stop offset="0.3460" stop-color="#ff3c00"/><stop offset="0.3493" stop-color="#fc0000"/><stop offset="0.3527" stop-color="#ff1b00"/><stop offset="0.3594" stop-color="#ffc400"/><stop offset="0.3628" stop-color="#fcff03"/><stop offset="0.3695" stop-color="#a5ff5a"/><stop offset="0.3829" stop-color="#27ffd8"/><stop offset="0.3863" stop-color="#0cfff3"/><stop offset="0.3897" stop-color="#00f3ff"/><stop offset="0.4031" stop-color="#00a5ff"/><stop offset="0.4199" stop-color="#0065ff"/><stop offset="0.4434" stop-color="#0035ff"/><stop offset="0.4803" stop-color="#0017ff"/><stop offset="0.5039" stop-color="#0021ff"/><stop offset="0.5240" stop-color="#002cff"/><stop offset="0.5610" stop-color="#0005ff"/><stop offset="0.9170" stop-color="#0000eb"/><stop offset="0.9204" stop-color="#0000e4"/><stop offset="0.9305" stop-color="#0000f0"/><stop offset="0.9674" stop-color="#0000ef"/><stop offset="0.9708" stop-color="#0000e5"/><stop offset="0.9741" stop-color="#002bff"/><stop offset="0.9809" stop-color="#004cff"/><stop offset="0.9976" stop-color="#007fff"/></linearGradient><linearGradient id="c35" x1="0" x2="0" y1="0" y2="1"><stop offset="0.0000" stop-color="#0000a0"/><stop offset="0.0605" stop-color="#0000a7"/><stop offset="0.2083" stop-color="#0000f9"/><stop offset="0.2284" stop-color="#000eff"/><stop offset="0.2586" stop-color="#0040ff"/><stop offset="0.2788" stop-color="#007eff"/><stop offset="0.2956" stop-color="#00d3ff"/><stop offset="0.3023" stop-color="#01fffe"/><stop offset="0.3158" stop-color="#72ff8d"/><stop offset="0.3258" stop-color="#e5ff1a"/><stop offset="0.3292" stop-color="#ffe400"/><stop offset="0.3325" stop-color="#ff9e00"/><stop offset="0.3359" stop-color="#ff4500"/><stop offset="0.3393" stop-color="#f80000"/><stop offset="0.3426" stop-color="#ff0400"/><stop offset="0.3493" stop-color="#ffae00"/><stop offset="0.3527" stop-color="#fff000"/><stop offset="0.3561" stop-color="#dbff24"/><stop offset="0.3661" stop-color="#6cff93"/><stop offset="0.3762" stop-color="#15ffea"/><stop offset="0.3796" stop-color="#00fbff"/><stop offset="0.3930" stop-color="#00aaff"/><stop offset="0.4098" stop-color="#0069ff"/><stop offset="0.4333" stop-color="#0037ff"/><stop offset="0.4703" stop-color="#0016ff"/><stop offset="0.4971" stop-color="#0019ff"/><stop offset="0.5207" stop-color="#0027ff"/><stop offset="0.5610" stop-color="#0003ff"/><stop offset="0.9170" stop-color="#0000eb"/><stop offset="0.9204" stop-color="#0000e4"/><stop offset="0.9305" stop-color="#0000f0"/><stop offset="0.9674" stop-color="#0000ef"/><stop offset="0.9708" stop-color="#0000e5"/><stop offset="0.9741" stop-color="#002bff"/><stop offset="0.9809" stop-color="#004cff"/><stop offset="0.9976" stop-color="#007fff"/></linearGradient><linearGradient id="c36" x1="0" x2="0" y1="0" y2="1"><stop offset="0.0000" stop-color="#0000a0"/><stop offset="0.0605" stop-color="#0000a7"/><stop offset="0.2015" stop-color="#0000f8"/><stop offset="0.2217" stop-color="#000dff"/><stop offset="0.2519" stop-color="#0041ff"/><stop offset="0.2721" stop-color="#0083ff"/><stop offset="0.2889" stop-color="#00deff"/><stop offset="0.2922" stop-color="#00f4ff"/><stop offset="0.2956" stop-color="#0efff1"/><stop offset="0.3090" stop-color="#83ff7c"/><stop offset="0.3158" stop-color="#ceff31"/><stop offset="0.3191" stop-color="#feff01"/><stop offset="0.3225" stop-color="#ffc300"/><stop offset="0.3292" stop-color="#ff1900"/><stop offset="0.3325" stop-color="#f00000"/><stop offset="0.3359" stop-color="#ff2900"/><stop offset="0.3393" stop-color="#ff8500"/><stop offset="0.3426" stop-color="#ffd100"/><stop offset="0.3460" stop-color="#f3ff0c"/><stop offset="0.3527" stop-color="#9fff60"/><stop offset="0.3661" stop-color="#22ffdd"/><stop offset="0.3695" stop-color="#08fff7"/><stop offset="0.3762" stop-color="#00daff"/><stop offset="0.3930" stop-color="#0085ff"/><stop offset="0.4132" stop-color="#004bff"/><stop offset="0.4434" stop-color="#0022ff"/><stop offset="0.4837" stop-color="#0011ff"/><stop offset="0.5173" stop-color="#0022ff"/><stop offset="0.5610" stop-color="#0002ff"/><stop offset="0.9170" stop-color="#0000eb"/><stop offset="0.9204" stop-color="#0000e4"/><stop offset="0.9305" stop-color="#0000f0"/><stop offset="0.9674" stop-color="#0000ef"/><stop offset="0.9708" stop-color="#0000e5"/><stop offset="0.9741" stop-color="#002bff"/><stop offset="0.9809" stop-color="#004cff"/><stop offset="0.9976" stop-color="#007fff"/></linearGradient><linearGradient id="c37" x1="0" x2="0" y1="0" y2="1"><stop offset="0.0000" stop-color="#0000a0"/><stop offset="0.0605" stop-color="#0000a7"/><stop offset="0.1982" stop-color="#0000f7"/><stop offset="0.2183" stop-color="#000dff"/><stop offset="0.2486" stop-color="#0041ff"/><stop offset="0.2687" stop-color="#0084ff"/><stop offset="0.2822" stop-color="#00cbff"/><stop offset="0.2889" stop-color="#00f9ff"/><stop offset="0.2956" stop-color="#2dffd2"/><stop offset="0.3090" stop-color="#aeff51"/><stop offset="0.3158" stop-color="#fff500"/><stop offset="0.3191" stop-color="#ffb500"/><stop offset="0.3258" stop-color="#ff0a00"/><stop offset="0.3292" stop-color="#f50000"/><stop offset="0.3325" stop-color="#ff3b00"/><stop offset="0.3359" stop-color="#ff9600"/><stop offset="0.3393" stop-color="#ffde00"/><stop offset="0.3426" stop-color="#eaff15"/><stop offset="0.3493" stop-color="#98ff67"/><stop offset="0.3628" stop-color="#1dffe2"/><stop offset="0.3661" stop-color="#04fffb"/><stop offset="0.3829" stop-color="#009fff"/><stop offset="0.3997" stop-color="#0062ff"/><stop offset="0.4232" stop-color="#0034ff"/><stop offset="0.4636" stop-color="#0013ff"/><stop offset="0.4938" stop-color="#0015ff"/><stop offset="0.5173" stop-color="#001dff"/><stop offset="0.5576" stop-color="#0002ff"/><stop offset="0.9170" stop-color="#0000eb"/><stop offset="0.9204" stop-color="#0000e4"/><stop offset="0.9305" stop-color="#0000f0"/><stop offset="0.9674" stop-color="#0000ef"/><stop offset="0.9708" stop-color="#0000e5"/><stop offset="0.9741" stop-color="#002bff"/><stop offset="0.9809" stop-color="#004cff"/><stop offset="0.9976" stop-color="#007fff"/></linearGradient><linearGradient id="c38" x1="0" x2="0" y1="0" y2="1"><stop offset="0.0000" stop-color="#0000a0"/><stop offset="0.0605" stop-color="#0000a7"/><stop offset="0.1915" stop-color="#0000f5"/><stop offset="0.2083" stop-color="#0007ff"/><stop offset="0.2385" stop-color="#003aff"/><stop offset="0.2586" stop-color="#0079ff"/><stop offset="0.2754" stop-color="#00d1ff"/><stop offset="0.2822" stop-color="#01fffe"/><stop offset="0.2956" stop-color="#76ff89"/><stop offset="0.3023" stop-color="#beff41"/><stop offset="0.3057" stop-color="#eaff15"/><stop offset="0.3090" stop-color="#ffde00"/><stop offset="0.3124" stop-color="#ff9600"/><stop offset="0.3158" stop-color="#ff3b00"/><stop offset="0.3191" stop-color="#f50000"/><stop offset="0.3225" stop-color="#ff0a00"/><stop offset="0.3292" stop-color="#ffb500"/><stop offset="0.3325" stop-color="#fff500"/><stop offset="0.3393" stop-color="#aeff51"/><stop offset="0.3527" stop-color="#2dffd2"/><stop offset="0.3594" stop-color="#00f9ff"/><stop offset="0.3729" stop-color="#00a9ff"/><stop offset="0.3897" stop-color="#0068ff"/><stop offset="0.4132" stop-color="#0037ff"/><stop offset="0.4535" stop-color="#0014ff"/><stop offset="0.4904" stop-color="#0012ff"/><stop offset="0.5173" stop-color="#0017ff"/><stop offset="0.5576" stop-color="#0001ff"/><stop offset="0.9170" stop-color="#0000eb"/><stop offset="0.9204" stop-color="#0000e4"/><stop offset="0.9305" stop-color="#0000f0"/><stop offset="0.9674" stop-color="#0000ef"/><stop offset="0.9708" stop-color="#0000e5"/><stop offset="0.9741" stop-color="#002bff"/><stop offset="0.9809" stop-color="#004cff"/><stop offset="0.9976" stop-color="#007fff"/></linearGradient><linearGradient id="c39" x1="0" x2="0" y1="0" y2="1"><stop offset="0.0000" stop-color="#0000a1"/><stop offset="0.0605" stop-color="#0000a8"/><stop offset="0.1881" stop-color="#0000f6"/><stop offset="0.2049" stop-color="#0009ff"/><stop offset="0.2351" stop-color="#003fff"/><stop offset="0.2553" stop-color="#0084ff"/><stop offset="0.2687" stop-color="#00cdff"/><stop offset="0.2754" stop-color="#00fcff"/><stop offset="0.2855" stop-color="#52ffad"/><stop offset="0.2956" stop-color="#baff45"/><stop offset="0.2990" stop-color="#e5ff1a"/><stop offset="0.3023" stop-color="#ffe400"/><stop offset="0.3057" stop-color="#ff9e00"/><stop offset="0.3090" stop-color="#ff4500"/><stop offset="0.3124" stop-color="#f80000"/><stop offset="0.3158" stop-color="#ff0400"/><stop offset="0.3225" stop-color="#ffae00"/><stop offset="0.3258" stop-color="#fff000"/><stop offset="0.3292" stop-color="#dbff24"/><stop offset="0.3393" stop-color="#6cff93"/><stop offset="0.3493" stop-color="#15ffea"/><stop offset="0.3527" stop-color="#00fbff"/><stop offset="0.3661" stop-color="#00aaff"/><stop offset="0.3829" stop-color="#0069ff"/><stop offset="0.4064" stop-color="#0037ff"/><stop offset="0.4468" stop-color="#0014ff"/><stop offset="0.4871" stop-color="#000fff"/><stop offset="0.5173" stop-color="#0011ff"/><stop offset="0.5610" stop-color="#0000ff"/><stop offset="0.9170" stop-color="#0000eb"/><stop offset="0.9204" stop-color="#0000e4"/><stop offset="0.9305" stop-color="#0000f0"/><stop offset="0.9674" stop-color="#0000ef"/><stop offset="0.9708" stop-color="#0000e5"/><stop offset="0.9741" stop-color="#002bff"/><stop offset="0.9809" stop-color="#004cff"/><stop offset="0.9976" stop-color="#007fff"/></linearGradient><linearGradient id="c40" x1="0" x2="0" y1="0" y2="1"><stop offset="0.0000" stop-color="#0000a1"/><stop offset="0.0605" stop-color="#0000a8"/><stop offset="0.1814" stop-color="#0000f3"/><stop offset="0.1982" stop-color="#0007ff"/><stop offset="0.2284" stop-color="#003dff"/><stop offset="0.2486" stop-color="#0082ff"/><stop offset="0.2620" stop-color="#00cbff"/><stop offset="0.2687" stop-color="#00faff"/><stop offset="0.2754" stop-color="#31ffce"/><stop offset="0.2855" stop-color="#93ff6c"/><stop offset="0.2922" stop-color="#e5ff1a"/><stop offset="0.2956" stop-color="#ffe400"/><stop offset="0.2990" stop-color="#ff9e00"/><stop offset="0.3023" stop-color="#ff4500"/><stop offset="0.3057" stop-color="#f80000"/><stop offset="0.3090" stop-color="#ff0400"/><stop offset="0.3158" stop-color="#ffae00"/><stop offset="0.3191" stop-color="#fff000"/><stop offset="0.3225" stop-color="#dbff24"/><stop offset="0.3325" stop-color="#6cff93"/><stop offset="0.3426" stop-color="#15ffea"/><stop offset="0.3460" stop-color="#00fbff"/><stop offset="0.3594" stop-color="#00aaff"/><stop offset="0.3762" stop-color="#0069ff"/><stop offset="0.3997" stop-color="#0037ff"/><stop offset="0.4400" stop-color="#0014ff"/><stop offset="0.4871" stop-color="#000dff"/><stop offset="0.5207" stop-color="#000aff"/><stop offset="0.5778" stop-color="#0000fe"/><stop offset="0.9170" stop-color="#0000eb"/><stop offset="0.9204" stop-color="#0000e4"/><stop offset="0.9305" stop-color="#0000f0"/><stop offset="0.9674" stop-color="#0000ef"/><stop offset="0.9708" stop-color="#0000e5"/><stop offset="0.9741" stop-color="#002bff"/><stop offset="0.9809" stop-color="#004cff"/><stop offset="0.9976" stop-color="#007fff"/></linearGradient></defs><rect x="542.00" y="43.9" width="9.90" height="297.7" fill="url(#c0)"/><rect x="550.90" y="43.9" width="9.60" height="297.7" fill="url(#c1)"/><rect x="559.50" y="43.9" width="9.60" height="297.7" fill="url(#c2)"/><rect x="568.10" y="43.9" width="9.60" height="297.7" fill="url(#c3)"/><rect x="576.70" y="43.9" width="9.60" height="297.7" fill="url(#c4)"/><rect x="585.30" y="43.9" width="9.60" height="297.7" fill="url(#c5)"/><rect x="593.90" y="43.9" width="9.60" height="297.7" fill="url(#c6)"/><rect x="602.50" y="43.9" width="9.60" height="297.7" fill="url(#c7)"/><rect x="611.10" y="43.9" width="9.60" height="297.7" fill="url(#c8)"/><rect x="619.70" y="43.9" width="9.60" height="297.7" fill="url(#c9)"/><rect x="628.30" y="43.9" width="9.60" height="297.7" fill="url(#c10)"/><rect x="636.90" y="43.9" width="9.60" height="297.7" fill="url(#c11)"/><rect x="645.50" y="43.9" width="9.60" height="297.7" fill="url(#c12)"/><rect x="654.10" y="43.9" width="9.60" height="297.7" fill="url(#c13)"/><rect x="662.70" y="43.9" width="9.60" height="297.7" fill="url(#c14)"/><rect x="671.30" y="43.9" width="9.60" height="297.7" fill="url(#c15)"/><rect x="679.90" y="43.9" width="9.60" height="297.7" fill="url(#c16)"/><rect x="688.50" y="43.9" width="9.60" height="297.7" fill="url(#c17)"/><rect x="697.10" y="43.9" width="9.60" height="297.7" fill="url(#c18)"/><rect x="705.70" y="43.9" width="9.60" height="297.7" fill="url(#c19)"/><rect x="714.30" y="43.9" width="9.60" height="297.7" fill="url(#c20)"/><rect x="722.90" y="43.9" width="9.60" height="297.7" fill="url(#c21)"/><rect x="731.50" y="43.9" width="9.60" height="297.7" fill="url(#c22)"/><rect x="740.10" y="43.9" width="9.60" height="297.7" fill="url(#c23)"/><rect x="748.70" y="43.9" width="9.61" height="297.7" fill="url(#c24)"/><rect x="757.31" y="43.9" width="9.61" height="297.7" fill="url(#c25)"/><rect x="765.92" y="43.9" width="9.61" height="297.7" fill="url(#c26)"/><rect x="774.53" y="43.9" width="9.61" height="297.7" fill="url(#c27)"/><rect x="783.14" y="43.9" width="9.61" height="297.7" fill="url(#c28)"/><rect x="791.76" y="43.9" width="9.61" height="297.7" fill="url(#c29)"/><rect x="800.37" y="43.9" width="9.61" height="297.7" fill="url(#c30)"/><rect x="808.98" y="43.9" width="9.61" height="297.7" fill="url(#c31)"/><rect x="817.59" y="43.9" width="9.61" height="297.7" fill="url(#c32)"/><rect x="826.20" y="43.9" width="9.56" height="297.7" fill="url(#c33)"/><rect x="834.76" y="43.9" width="9.56" height="297.7" fill="url(#c34)"/><rect x="843.33" y="43.9" width="9.56" height="297.7" fill="url(#c35)"/><rect x="851.89" y="43.9" width="9.56" height="297.7" fill="url(#c36)"/><rect x="860.45" y="43.9" width="9.56" height="297.7" fill="url(#c37)"/><rect x="869.01" y="43.9" width="9.56" height="297.7" fill="url(#c38)"/><rect x="877.58" y="43.9" width="9.56" height="297.7" fill="url(#c39)"/><rect x="886.14" y="43.9" width="8.56" height="297.7" fill="url(#c40)"/></g>
<rect x="542.0" y="43.9" width="352.7" height="297.7" fill="none" stroke="#000" stroke-width="2"/>
<path d="M537.5 341.6H542.0M537.5 242.4H542.0M537.5 143.1H542.0M537.5 43.9H542.0M542.0 341.6v4.5M612.5 341.6v4.5M683.0 341.6v4.5M753.5 341.6v4.5M824.0 341.6v4.5M894.7 341.6v4.5" stroke="#000" stroke-width="1.8" fill="none"/>
<text x="530.0" y="349.4" font-size="19.8" text-anchor="end" fill="#000" >0</text>
<text x="530.0" y="250.2" font-size="19.8" text-anchor="end" fill="#000" >10</text>
<text x="530.0" y="150.9" font-size="19.8" text-anchor="end" fill="#000" >20</text>
<text x="530.0" y="51.7" font-size="19.8" text-anchor="end" fill="#000" >30</text>
<text x="542.0" y="372.0" font-size="19.5" text-anchor="middle" fill="#000" >0</text>
<text x="612.5" y="372.0" font-size="19.5" text-anchor="middle" fill="#000" >2</text>
<text x="683.0" y="372.0" font-size="19.5" text-anchor="middle" fill="#000" >4</text>
<text x="753.5" y="372.0" font-size="19.5" text-anchor="middle" fill="#000" >6</text>
<text x="824.0" y="372.0" font-size="19.5" text-anchor="middle" fill="#000" >8</text>
<text x="894.7" y="372.0" font-size="19.5" text-anchor="middle" fill="#000" >9</text>
<text x="713" y="400.4" font-size="19.5" text-anchor="middle"><tspan font-style="italic">I</tspan> (-mA)</text>
<text transform="translate(491,190) rotate(-90)" font-size="19.5" text-anchor="middle"><tspan font-style="italic">f</tspan> (GHz)</text>
<defs><linearGradient id="cbg" x1="0" x2="1" y1="0" y2="0"><stop offset="0.000" stop-color="#000080"/><stop offset="0.050" stop-color="#0000b3"/><stop offset="0.100" stop-color="#0000e6"/><stop offset="0.150" stop-color="#001aff"/><stop offset="0.200" stop-color="#004dff"/><stop offset="0.250" stop-color="#0080ff"/><stop offset="0.300" stop-color="#00b3ff"/><stop offset="0.350" stop-color="#00e5ff"/><stop offset="0.400" stop-color="#1affe5"/><stop offset="0.450" stop-color="#4dffb3"/><stop offset="0.500" stop-color="#80ff80"/><stop offset="0.550" stop-color="#b3ff4c"/><stop offset="0.600" stop-color="#e5ff1a"/><stop offset="0.650" stop-color="#ffe500"/><stop offset="0.700" stop-color="#ffb300"/><stop offset="0.750" stop-color="#ff8000"/><stop offset="0.800" stop-color="#ff4c00"/><stop offset="0.850" stop-color="#ff1a00"/><stop offset="0.900" stop-color="#e50000"/><stop offset="0.950" stop-color="#b30000"/><stop offset="1.000" stop-color="#800000"/></linearGradient></defs><rect x="654.7" y="23" width="123.8" height="19.3" fill="url(#cbg)"/><path d="M667.1 23v2.5M679.5 23v2.5M691.8 23v2.5M704.2 23v2.5M716.6 23v2.5M729.0 23v2.5M741.4 23v2.5M753.7 23v2.5M766.1 23v2.5" stroke="#000" stroke-width="0.8"/>
<text x="651.5" y="37.5" font-size="19" text-anchor="end" fill="#000" >dB/noise</text>
<text x="692.1" y="13.9" font-size="19.3" text-anchor="middle" fill="#000" >15</text>
<text x="729.6" y="13.9" font-size="19.3" text-anchor="middle" fill="#000" >30</text>
<text x="767.0" y="13.9" font-size="19.3" text-anchor="middle" fill="#000" >45</text>
<g fill="#fff" font-size="16.4">
<text x="546" y="100.5"><tspan font-style="italic">μ</tspan><tspan font-size="12" dy="5">0</tspan><tspan font-style="italic" dy="-5">H</tspan><tspan font-size="12" dy="5.5">ex</tspan><tspan dy="-5.5"> = 1.6 T</tspan></text>
<text x="546" y="130"><tspan font-style="italic">θ</tspan><tspan font-size="12" dy="5.5">ex</tspan><tspan dy="-5.5"> = 88°</tspan></text>
<text x="546" y="159.6"><tspan font-style="italic">d</tspan><tspan font-size="12" dy="5.8">NC</tspan><tspan dy="-5.8" x="572.5"> = 150 nm</tspan></text>
</g>
<polyline fill="none" stroke="#11ee11" stroke-width="2.6" stroke-dasharray="8 8" points="542.0,169.9 546.0,169.9 549.9,169.9 553.9,169.9 557.9,169.9 561.8,169.9 565.8,169.9 569.7,169.9 573.7,169.9 577.7,169.8 581.6,169.8 585.6,169.7 589.6,169.7 593.5,169.6 597.5,169.5 601.4,169.5 605.4,169.4 609.4,169.3 613.3,169.2 617.3,169.1 621.3,169.0 625.2,168.8 629.2,168.7 633.1,168.6 637.1,168.4 641.1,168.3 645.0,168.1 649.0,168.0 653.0,167.8 656.9,167.6 660.9,167.4 664.9,167.2 668.8,167.0 672.8,166.8 676.7,166.6 680.7,166.4 684.7,166.1 688.6,165.9 692.6,165.6 696.6,165.4 700.5,165.1 704.5,164.8 708.4,164.5 712.4,164.2 716.4,163.9 720.3,163.6 724.3,163.3 728.3,162.9 732.2,162.6 736.2,162.2 740.1,161.8 744.1,161.4 748.1,161.0 752.0,160.6 756.0,160.1 760.0,159.7 763.9,159.2 767.9,158.8 771.8,158.3 775.8,157.8 779.8,157.2 783.7,156.7 787.7,156.1 791.7,155.6 795.6,155.0 799.6,154.4 803.6,153.7 807.5,153.1 811.5,152.4 815.4,151.7 819.4,151.0 823.4,150.3 827.3,149.6 831.3,148.8 835.3,148.0 839.2,147.2 843.2,146.3 847.1,145.5 851.1,144.6 855.1,143.7 859.0,142.7 863.0,141.8 867.0,140.8 870.9,139.7 874.9,138.7 878.8,137.6 882.8,136.5 886.8,135.4 890.7,134.2 894.7,133.0"/>
<polyline fill="none" stroke="#ff9022" stroke-width="2.6" stroke-dasharray="8 8" points="542.0,220.9 546.0,220.9 549.9,221.0 553.9,221.0 557.9,221.0 561.8,221.0 565.8,221.0 569.7,221.0 573.7,221.0 577.7,220.9 581.6,220.9 585.6,220.8 589.6,220.7 593.5,220.7 597.5,220.6 601.4,220.5 605.4,220.4 609.4,220.3 613.3,220.2 617.3,220.1 621.3,220.0 625.2,219.8 629.2,219.7 633.1,219.6 637.1,219.4 641.1,219.3 645.0,219.1 649.0,219.0 653.0,218.8 656.9,218.6 660.9,218.5 664.9,218.3 668.8,218.1 672.8,217.9 676.7,217.7 680.7,217.6 684.7,217.4 688.6,217.2 692.6,217.0 696.6,216.7 700.5,216.5 704.5,216.3 708.4,216.1 712.4,215.9 716.4,215.6 720.3,215.4 724.3,215.1 728.3,214.9 732.2,214.6 736.2,214.3 740.1,214.1 744.1,213.8 748.1,213.5 752.0,213.2 756.0,212.9 760.0,212.5 763.9,212.2 767.9,211.8 771.8,211.5 775.8,211.1 779.8,210.7 783.7,210.3 787.7,209.9 791.7,209.5 795.6,209.0 799.6,208.6 803.6,208.1 807.5,207.6 811.5,207.1 815.4,206.6 819.4,206.0 823.4,205.4 827.3,204.8 831.3,204.2 835.3,203.6 839.2,202.9 843.2,202.2 847.1,201.5 851.1,200.7 855.1,200.0 859.0,199.1 863.0,198.3 867.0,197.4 870.9,196.5 874.9,195.6 878.8,194.6 882.8,193.6 886.8,192.6 890.7,191.5 894.7,190.3"/>
<polyline fill="none" stroke="#ff1a1a" stroke-width="2.6" stroke-dasharray="8 8" points="542.0,263.2 546.0,263.2 549.9,263.2 553.9,263.2 557.9,263.2 561.8,263.1 565.8,263.1 569.7,263.1 573.7,263.0 577.7,263.0 581.6,262.9 585.6,262.9 589.6,262.8 593.5,262.8 597.5,262.7 601.4,262.7 605.4,262.6 609.4,262.5 613.3,262.5 617.3,262.4 621.3,262.3 625.2,262.2 629.2,262.1 633.1,262.0 637.1,261.9 641.1,261.8 645.0,261.7 649.0,261.6 653.0,261.5 656.9,261.3 660.9,261.2 664.9,261.1 668.8,260.9 672.8,260.8 676.7,260.6 680.7,260.5 684.7,260.3 688.6,260.1 692.6,260.0 696.6,259.8 700.5,259.6 704.5,259.4 708.4,259.2 712.4,259.0 716.4,258.7 720.3,258.5 724.3,258.3 728.3,258.0 732.2,257.8 736.2,257.5 740.1,257.2 744.1,257.0 748.1,256.7 752.0,256.4 756.0,256.1 760.0,255.8 763.9,255.4 767.9,255.1 771.8,254.7 775.8,254.4 779.8,254.0 783.7,253.7 787.7,253.3 791.7,252.9 795.6,252.5 799.6,252.0 803.6,251.6 807.5,251.2 811.5,250.7 815.4,250.2 819.4,249.8 823.4,249.3 827.3,248.8 831.3,248.2 835.3,247.7 839.2,247.2 843.2,246.6 847.1,246.0 851.1,245.4 855.1,244.8 859.0,244.2 863.0,243.6 867.0,242.9 870.9,242.2 874.9,241.6 878.8,240.9 882.8,240.1 886.8,239.4 890.7,238.7 894.7,237.9"/>
<text x="767" y="129" fill="#11ee11" font-size="16" font-style="italic">f</text><text x="773" y="120.4" fill="#11ee11" font-size="11">3rd</text><text x="775" y="136.4" fill="#11ee11" font-size="11">PSW</text>
<text x="680.5" y="197.8" fill="#ff9022" font-size="16" font-style="italic">f</text><text x="686.5" y="189.8" fill="#ff9022" font-size="11">2nd</text><text x="686.5" y="205.2" fill="#ff9022" font-size="11">PSW</text>
<text x="584.5" y="284.4" fill="#ff1a1a" font-size="16" font-style="italic">f</text><text x="588.5" y="289.6" fill="#ff1a1a" font-size="11">FMR</text>
</svg>
</body></html>
